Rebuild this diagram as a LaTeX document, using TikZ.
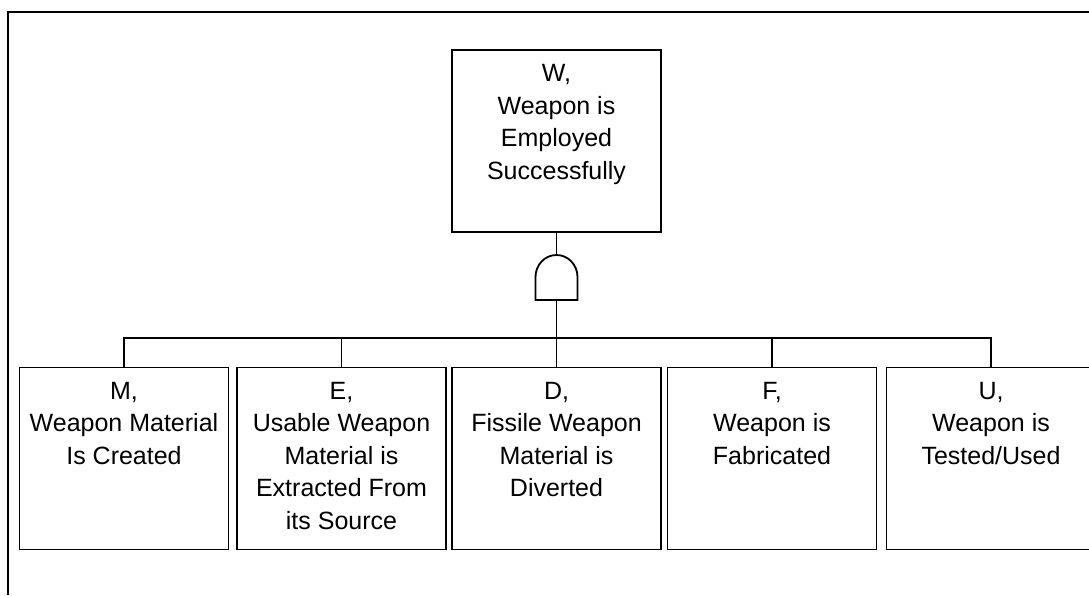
\documentclass[tikz,border=0pt]{standalone}
\usepackage{fontspec}
\setmainfont{Liberation Sans}
\tikzset{
  event/.style={draw, line width=1.8pt, inner xsep=4pt, inner ysep=9pt,
    minimum width=209pt, minimum height=182pt},
  tie/.style={line width=1.8pt}
}
\newcommand{\evtext}[1]{\parbox[c][164pt][t]{200pt}{\centering
  \fontsize{25}{32.5}\selectfont\strut #1\par}}
\begin{document}
\begin{tikzpicture}[x=1pt,y=1pt]
\useasboundingbox (0,0) rectangle (1089,595);
\draw[line width=1.4pt] (8,0) -- (8,583) -- (1089,583);
% top event
\node[event] (w) at (556.5,454) {\evtext{W,\\Weapon is\\Employed\\Successfully}};
% and gate
\coordinate (gatein) at (556.5,340);
\coordinate (gateout) at (556.5,295);
\draw[tie] (535.5,295) -- (535.5,318) arc[start angle=180,end angle=0,x radius=21pt,y radius=22pt] -- (577.5,295) -- cycle;
\draw[tie] (w.south) -- (gatein);
% basic events
\node[event] (m) at (124,136.5) {\evtext{M,\\Weapon Material\\Is Created}};
\node[event] (e) at (341.5,136.5) {\evtext{E,\\Usable Weapon\\Material is\\Extracted From\\its Source}};
\node[event] (d) at (556.5,136.5) {\evtext{D,\\Fissile Weapon\\Material is\\Diverted}};
\node[event] (f) at (772,136.5) {\evtext{F,\\Weapon is\\Fabricated}};
\node[event] (u) at (991,136.5) {\evtext{U,\\Weapon is\\Tested/Used}};
\coordinate (bus) at (556.5,257);
\draw[tie] (gateout) -- (d.north);
\draw[tie] (m.north) |- (bus) -| (u.north);
\foreach \b in {e,f} \draw[tie] (\b.north) -- (\b.north |- bus);
\end{tikzpicture}
\end{document}
